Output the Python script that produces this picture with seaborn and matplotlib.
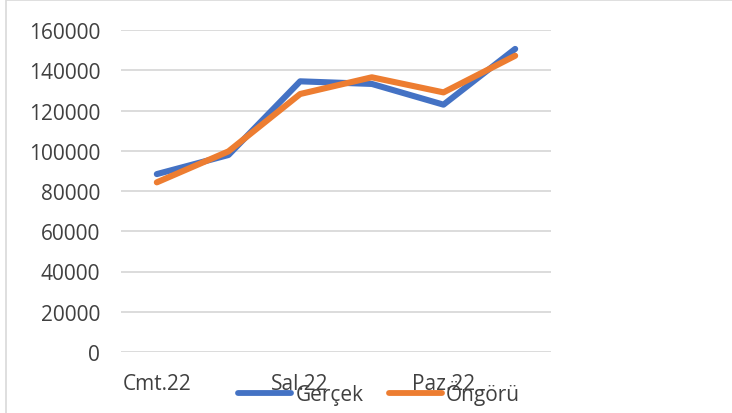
import matplotlib
matplotlib.use("Agg")
import matplotlib.pyplot as plt
from matplotlib.patches import Rectangle
import seaborn as sns
import pandas as pd

# ---- data ----
periods = [0, 1, 2, 3, 4, 5]
tick_positions = [0, 2, 4]
tick_labels = ["Cmt.22", "Sal.22", "Paz.22"]
gercek = [88400, 97900, 134500, 133200, 122900, 150600]
ongoru = [84300, 99700, 128200, 136500, 129000, 147200]
series_names = ["Gerçek", "Öngörü"]
y_ticks = [0, 20000, 40000, 60000, 80000, 100000, 120000, 140000, 160000]

df = pd.DataFrame({
    "x": periods * 2,
    "y": gercek + ongoru,
    "seri": [series_names[0]] * len(periods) + [series_names[1]] * len(periods),
})

sns.set_theme(style="white")
plt.rcParams["font.family"] = ["Open Sans", "DejaVu Sans"]
text_color = "#404040"

fig = plt.figure(figsize=(7.32, 4.14), dpi=100)
W, H = 732, 414
ax = fig.add_axes([121 / W, (H - 353) / H, (551 - 121) / W, (353 - 31) / H])

sns.lineplot(data=df, x="x", y="y", hue="seri", ax=ax,
             palette=["#4472C4", "#ED7D31"], linewidth=4.4,
             solid_capstyle="round", solid_joinstyle="round", legend=True)

ax.set_xlim(-0.5, 5.5)
ax.set_ylim(0, 160000)
ax.set_yticks(y_ticks)
ax.set_yticklabels([str(v) for v in y_ticks])
ax.set_xticks(tick_positions)
ax.set_xticklabels(tick_labels)
ax.set_xlabel("")
ax.set_ylabel("")
ax.grid(axis="y", color="#D9D9D9", linewidth=1.3)
ax.set_axisbelow(True)
for s in ax.spines.values():
    s.set_visible(False)
ax.tick_params(axis="y", length=0, pad=15, labelsize=15, labelcolor=text_color)
ax.tick_params(axis="x", length=0, pad=15, labelsize=15, labelcolor=text_color)

handles, labels = ax.get_legend_handles_labels()
leg = ax.legend(handles, labels, ncol=2, loc="center",
                bbox_to_anchor=(379 / W, (H - 394) / H),
                bbox_transform=fig.transFigure, frameon=False,
                fontsize=15, handlelength=2.55, handletextpad=0.2,
                columnspacing=1.2, labelcolor=text_color)
for line in leg.get_lines():
    line.set_linewidth(4.2)
    line.set_solid_capstyle("round")

fig.add_artist(Rectangle((6 / W, -0.2), 1.5, (H - 1) / H + 0.2,
                         transform=fig.transFigure, fill=False,
                         edgecolor="#D9D9D9", linewidth=1.2))

fig.savefig("out.png", dpi=100, facecolor="white")
